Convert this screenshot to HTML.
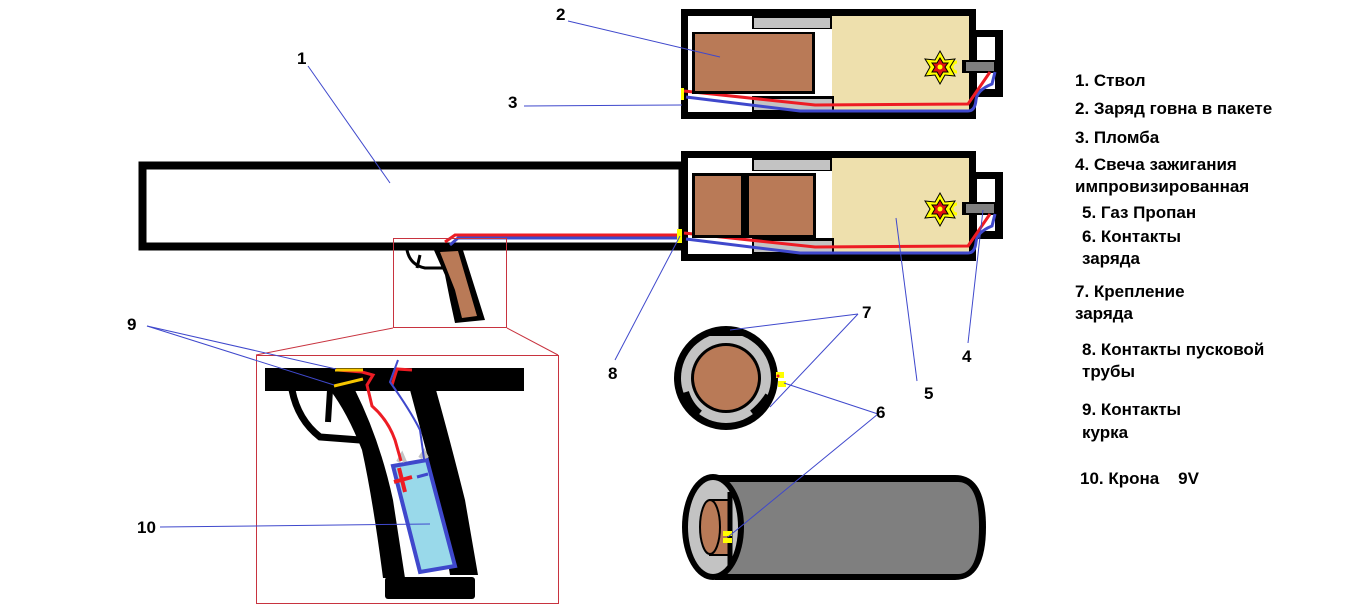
<!DOCTYPE html>
<html><head><meta charset="utf-8"><style>
html,body{margin:0;padding:0;background:#fff;width:1358px;height:608px;overflow:hidden}
svg{display:block}
text{font-family:"Liberation Sans",sans-serif;font-weight:bold;font-size:17px;fill:#000;white-space:pre}
</style></head><body>
<svg width="1358" height="608" viewBox="0 0 1358 608" xmlns="http://www.w3.org/2000/svg">
<defs>
<g id="cart">
 <rect x="684.5" y="12.5" width="288" height="103" fill="#fff" stroke="#000" stroke-width="7"/>
 <rect x="832" y="16" width="137" height="96" fill="#eee0ad"/>
 <rect x="752" y="16" width="80" height="13" fill="#000"/>
 <rect x="754" y="18" width="76" height="10" fill="#c3c3c3"/>
 <rect x="752" y="96" width="82" height="16" fill="#000"/>
 <rect x="754" y="99" width="78" height="11" fill="#c3c3c3"/>
 <rect x="976" y="30" width="27" height="67" fill="#000"/>
 <rect x="977" y="37" width="18" height="52" fill="#fff"/>
 <rect x="962" y="60" width="34" height="13" fill="#000"/>
 <rect x="966" y="62" width="28" height="9" fill="#7f7f7f"/>
 <path d="M957 62 a5 5 0 1 0 0 10" fill="none" stroke="#ff0" stroke-width="3"/>
 <polygon points="940,51 945,60 955,59 950,67 955,76 945,75 940,84 935,75 925,76 930,67 925,59 935,60" fill="#ff0" stroke="#000" stroke-width="1"/>
 <polygon points="940,58 943,63 948,63 945,67 948,72 943,72 940,77 937,72 932,72 935,67 932,63 937,63" fill="#e01010" stroke="#000" stroke-width="1"/>
 <circle cx="940" cy="67" r="2.5" fill="#ff0"/>
 <path d="M686 97 L800 111 L968 111 Q975 111 976 100 Q977 90 992 84 L995 72" fill="none" stroke="#3f48cc" stroke-width="3"/>
 <path d="M684 91 L815 105 L968 104 L990 72" fill="none" stroke="#ed1c24" stroke-width="3"/>
</g>
</defs>

<use href="#cart"/>
<rect x="692" y="32" width="123" height="62" fill="#000"/>
<rect x="695" y="34" width="117" height="57" fill="#b97a57"/>
<rect x="681" y="88" width="3" height="12" fill="#ff0"/>

<rect x="142.5" y="165.5" width="540" height="81" fill="#fff" stroke="#000" stroke-width="8"/>
<g transform="translate(0,142)"><use href="#cart"/></g>
<rect x="692" y="173" width="124" height="65" fill="#000"/>
<rect x="695" y="176" width="46" height="59" fill="#b97a57"/>
<rect x="749" y="176" width="64" height="59" fill="#b97a57"/>
<rect x="688" y="164" width="60" height="5" fill="#fff"/>
<path d="M445 242 L455 235 L682 235" fill="none" stroke="#ed1c24" stroke-width="3"/>
<path d="M450 245 L458 238 L682 238" fill="none" stroke="#3f48cc" stroke-width="3"/>
<rect x="677" y="229" width="5" height="14" fill="#ff0"/>

<rect x="393.5" y="238.5" width="113" height="89" fill="none" stroke="#c8333f" stroke-width="1"/>
<path d="M407 250 Q410 265 425 268 L445 268" fill="none" stroke="#000" stroke-width="3"/>
<path d="M420 255 L417 268" stroke="#000" stroke-width="3"/>
<polygon points="433,248 462,247 485,320 455,323 450,300 445,275" fill="#000"/>
<polygon points="440,252 458,251 477,316 462,318 455,290" fill="#b97a57"/>
<line x1="393" y1="328" x2="256" y2="355" stroke="#c8333f" stroke-width="1"/>
<line x1="507" y1="328" x2="558" y2="355" stroke="#c8333f" stroke-width="1"/>

<rect x="256.5" y="355.5" width="302" height="248" fill="none" stroke="#c8333f" stroke-width="1"/>
<rect x="265" y="368" width="259" height="23" fill="#000"/>
<path d="M292 390 Q298 420 320 437 L360 440" fill="none" stroke="#000" stroke-width="7"/>
<path d="M330 390 L328 422" stroke="#000" stroke-width="6"/>
<path d="M330 390 L355 390 Q380 440 393 500 L405 578 L383 578 Q373 500 362 450 Q347 412 330 390Z" fill="#000"/>
<path d="M410 390 L436 390 Q450 440 465 500 L478 575 L450 575 Q438 500 426 450 Z" fill="#000"/>
<rect x="385" y="577" width="90" height="22" rx="3" fill="#000"/>
<polygon points="393,466 427,460 455,566 420,572" fill="#99d9ea" stroke="#3f48cc" stroke-width="4"/>
<path d="M398 462 L402 455 L405 462 M420 458 L424 452 L427 458" fill="none" stroke="#c3c3c3" stroke-width="4"/>
<path d="M399 468 L405 492 M394 482 L412 477" stroke="#ed1c24" stroke-width="4"/>
<path d="M417 477 L428 474" stroke="#3f48cc" stroke-width="3"/>
<path d="M401 461 L395 440 Q388 420 372 406 L367 385 L373 375 L362 372 L338 370" fill="none" stroke="#ed1c24" stroke-width="3"/>
<path d="M412 370 L397 369 L392 385" fill="none" stroke="#ed1c24" stroke-width="3"/>
<path d="M424 459 L420 430 Q410 410 390 382 L398 360" fill="none" stroke="#3f48cc" stroke-width="2"/>
<path d="M335 370 L363 370" stroke="#f7c600" stroke-width="3"/>
<path d="M334 386 L363 379" stroke="#f7c600" stroke-width="3"/>

<circle cx="726" cy="378" r="52" fill="#000"/>
<circle cx="726" cy="378" r="45" fill="#c3c3c3"/>
<circle cx="726" cy="378" r="35" fill="#000"/>
<circle cx="726" cy="378" r="32" fill="#b97a57"/>
<path d="M710 333 L742 333" stroke="#000" stroke-width="6"/>
<path d="M686 392 Q690 405 700 413" fill="none" stroke="#000" stroke-width="6"/>
<path d="M752 413 Q762 405 768 395" fill="none" stroke="#000" stroke-width="6"/>
<rect x="776" y="372" width="8" height="6" fill="#ff0"/>
<rect x="778" y="381" width="8" height="6" fill="#ff0"/>
<circle cx="778" cy="376" r="1.5" fill="#ed1c24"/>

<path d="M715 475 L955 475 Q986 475 986 527 Q986 580 955 580 L715 580 Z" fill="#000"/>
<path d="M720 482 L958 482 Q979 482 979 527 Q979 574 958 574 L720 574 Z" fill="#7f7f7f"/>
<ellipse cx="713" cy="527" rx="31" ry="53" fill="#000"/>
<ellipse cx="713" cy="527" rx="25" ry="47" fill="#c3c3c3"/>
<path d="M710 500 L730 500 L730 555 L710 555 Z" fill="#b97a57" stroke="#000" stroke-width="2"/>
<ellipse cx="710" cy="527" rx="10" ry="27" fill="#b97a57" stroke="#000" stroke-width="2"/>
<line x1="730" y1="492" x2="730" y2="565" stroke="#000" stroke-width="5"/>
<rect x="723" y="531" width="9" height="5" fill="#ff0"/>
<rect x="723" y="538" width="9" height="5" fill="#ff0"/>

<g stroke="#3f48cc" stroke-width="1" fill="none">
<line x1="308" y1="66" x2="390" y2="183"/>
<line x1="568" y1="21" x2="720" y2="57"/>
<line x1="524" y1="106" x2="682" y2="105"/>
<line x1="968" y1="343" x2="983" y2="210"/>
<line x1="917" y1="381" x2="896" y2="218"/>
<line x1="878" y1="414" x2="784" y2="383"/>
<line x1="878" y1="414" x2="728" y2="537"/>
<line x1="858" y1="314" x2="730" y2="330"/>
<line x1="858" y1="314" x2="770" y2="407"/>
<line x1="615" y1="360" x2="680" y2="236"/>
<line x1="147" y1="326" x2="336" y2="369"/>
<line x1="147" y1="326" x2="334" y2="385"/>
<line x1="160" y1="527" x2="430" y2="524"/>
</g>

<text x="297" y="64">1</text>
<text x="556" y="20">2</text>
<text x="508" y="108">3</text>
<text x="962" y="362">4</text>
<text x="924" y="399">5</text>
<text x="876" y="418">6</text>
<text x="862" y="318">7</text>
<text x="608" y="379">8</text>
<text x="127" y="330">9</text>
<text x="137" y="533">10</text>

<text x="1075" y="86">1. Ствол</text>
<text x="1075" y="114">2. Заряд говна в пакете</text>
<text x="1075" y="143">3. Пломба</text>
<text x="1075" y="170">4. Свеча зажигания</text>
<text x="1075" y="192">импровизированная</text>
<text x="1082" y="218">5. Газ Пропан</text>
<text x="1082" y="242">6. Контакты</text>
<text x="1082" y="264">заряда</text>
<text x="1075" y="297">7. Крепление</text>
<text x="1075" y="319">заряда</text>
<text x="1082" y="355">8. Контакты пусковой</text>
<text x="1082" y="377">трубы</text>
<text x="1082" y="415">9. Контакты</text>
<text x="1082" y="438">курка</text>
<text x="1080" y="484" xml:space="preserve">10. Крона    9V</text>
</svg>
</body></html>
